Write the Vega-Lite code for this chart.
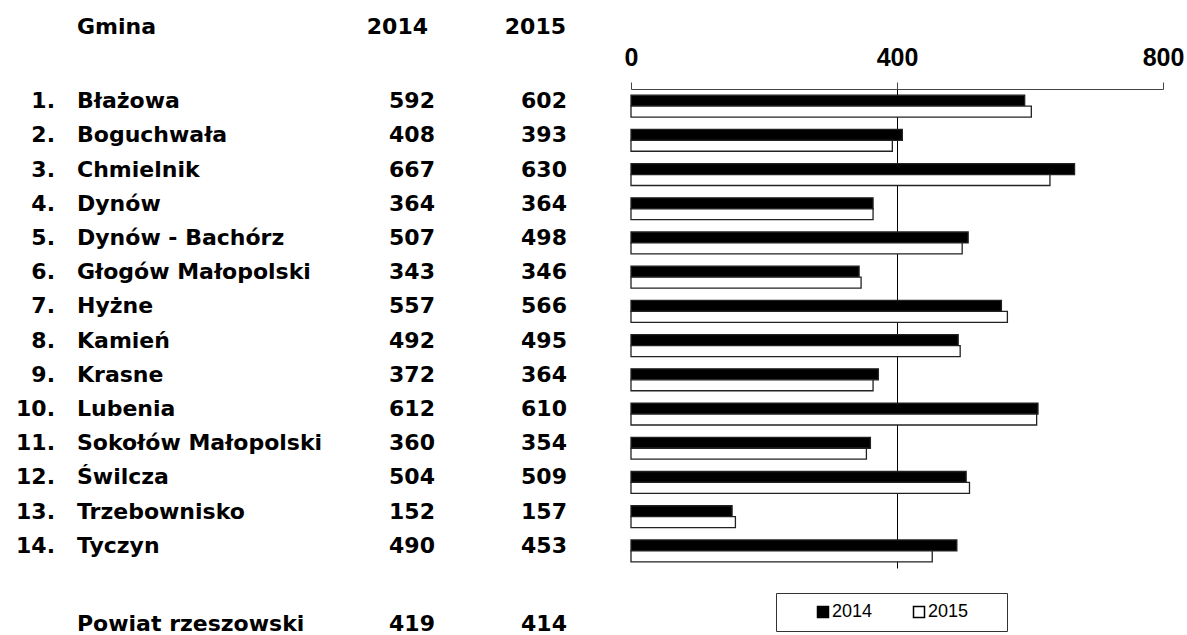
{
  "$schema": "https://vega.github.io/schema/vega-lite/v6.json",
  "width": 532,
  "height": 479,
  "autosize": "none",
  "padding": {"left": 631, "top": 89, "right": 24, "bottom": 67},
  "background": "white",
  "config": {
    "view": {"stroke": null},
    "text": {"font": "DejaVu Sans", "fontWeight": "bold", "fontSize": 22, "color": "black", "baseline": "middle"}
  },
  "datasets": {
    "gminy": [
      {"nr": "1.", "gmina": "Błażowa", "2014": 592, "2015": 602},
      {"nr": "2.", "gmina": "Boguchwała", "2014": 408, "2015": 393},
      {"nr": "3.", "gmina": "Chmielnik", "2014": 667, "2015": 630},
      {"nr": "4.", "gmina": "Dynów", "2014": 364, "2015": 364},
      {"nr": "5.", "gmina": "Dynów - Bachórz", "2014": 507, "2015": 498},
      {"nr": "6.", "gmina": "Głogów Małopolski", "2014": 343, "2015": 346},
      {"nr": "7.", "gmina": "Hyżne", "2014": 557, "2015": 566},
      {"nr": "8.", "gmina": "Kamień", "2014": 492, "2015": 495},
      {"nr": "9.", "gmina": "Krasne", "2014": 372, "2015": 364},
      {"nr": "10.", "gmina": "Lubenia", "2014": 612, "2015": 610},
      {"nr": "11.", "gmina": "Sokołów Małopolski", "2014": 360, "2015": 354},
      {"nr": "12.", "gmina": "Świlcza", "2014": 504, "2015": 509},
      {"nr": "13.", "gmina": "Trzebownisko", "2014": 152, "2015": 157},
      {"nr": "14.", "gmina": "Tyczyn", "2014": 490, "2015": 453}
    ],
    "powiat": [
      {"gmina": "Powiat rzeszowski", "2014": 419, "2015": 414}
    ],
    "naglowek": [
      {"gmina": "Gmina", "2014": "2014", "2015": "2015"}
    ]
  },
  "data": {"name": "gminy"},
  "layer": [
    {
      "transform": [{"fold": ["2014", "2015"], "as": ["rok", "wartosc"]}],
      "mark": {"type": "bar", "stroke": "#222", "strokeWidth": 1.3},
      "encoding": {
        "y": {"field": "gmina", "type": "nominal", "sort": null, "axis": null,
              "scale": {"paddingInner": 0.36, "paddingOuter": 0.18}},
        "yOffset": {"field": "rok", "type": "nominal", "scale": {"paddingInner": 0, "paddingOuter": 0}},
        "x": {"field": "wartosc", "type": "quantitative",
              "scale": {"domain": [0, 800], "nice": false},
              "axis": {"orient": "top", "values": [0, 400, 800], "title": null,
                       "domainColor": "#444", "tickColor": "#444", "tickSize": 7,
                       "labelFont": "Liberation Sans", "labelFontWeight": "bold",
                       "labelFontSize": 25, "labelColor": "black", "labelPadding": 12,
                       "labelFlush": false, "grid": true, "gridColor": "black",
                       "gridOpacity": {"condition": {"test": "datum.value === 400", "value": 1}, "value": 0}}},
        "color": {"field": "rok", "type": "nominal",
                  "scale": {"domain": ["2014", "2015"], "range": ["black", "white"]},
                  "legend": {"orient": "none", "legendX": 145, "legendY": 504,
                             "direction": "horizontal", "title": " ",
                             "titleOrient": "right", "titlePadding": 29, "titleFontSize": 17,
                             "strokeColor": "#333", "padding": 10,
                             "symbolType": "square", "symbolSize": 121,
                             "symbolStrokeColor": "black", "symbolStrokeWidth": 1.5,
                             "symbolOffset": 28,
                             "labelFont": "Liberation Sans", "labelFontSize": 18,
                             "labelColor": "black", "labelOffset": 0, "columnPadding": 9}}
      }
    },
    {
      "mark": {"type": "text", "align": "right", "dy": -5},
      "encoding": {
        "y": {"field": "gmina", "type": "nominal", "sort": null},
        "x": {"value": -576},
        "text": {"field": "nr"}
      }
    },
    {
      "mark": {"type": "text", "align": "left", "dy": -5},
      "encoding": {
        "y": {"field": "gmina", "type": "nominal", "sort": null},
        "x": {"value": -554},
        "text": {"field": "gmina"}
      }
    },
    {
      "mark": {"type": "text", "align": "right", "dy": -5},
      "encoding": {
        "y": {"field": "gmina", "type": "nominal", "sort": null},
        "x": {"value": -196},
        "text": {"field": "2014"}
      }
    },
    {
      "mark": {"type": "text", "align": "right", "dy": -5},
      "encoding": {
        "y": {"field": "gmina", "type": "nominal", "sort": null},
        "x": {"value": -64},
        "text": {"field": "2015"}
      }
    },
    {
      "data": {"name": "naglowek"},
      "layer": [
        {"mark": {"type": "text", "align": "left"},
         "encoding": {"x": {"value": -554}, "y": {"value": -62}, "text": {"field": "gmina"}}},
        {"mark": {"type": "text", "align": "right"},
         "encoding": {"x": {"value": -203}, "y": {"value": -62}, "text": {"field": "2014"}}},
        {"mark": {"type": "text", "align": "right"},
         "encoding": {"x": {"value": -65}, "y": {"value": -62}, "text": {"field": "2015"}}}
      ]
    },
    {
      "data": {"name": "powiat"},
      "layer": [
        {"mark": {"type": "text", "align": "left"},
         "encoding": {"x": {"value": -554}, "y": {"value": 535}, "text": {"field": "gmina"}}},
        {"mark": {"type": "text", "align": "right"},
         "encoding": {"x": {"value": -196}, "y": {"value": 535}, "text": {"field": "2014"}}},
        {"mark": {"type": "text", "align": "right"},
         "encoding": {"x": {"value": -64}, "y": {"value": 535}, "text": {"field": "2015"}}}
      ]
    }
  ]
}
